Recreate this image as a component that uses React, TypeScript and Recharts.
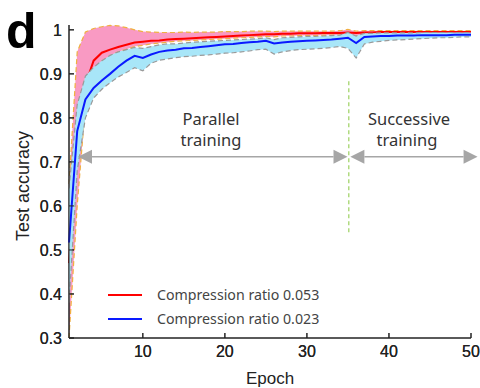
import {
  Area,
  ComposedChart,
  Line,
  ReferenceLine,
  XAxis,
  YAxis,
} from "recharts";

const epochs = [
  1, 2, 3, 4, 5, 6, 7, 8, 9, 10, 11, 12, 13, 14, 15, 16, 17, 18, 19, 20, 21, 22, 23, 24, 25,
  26, 27, 28, 29, 30, 31, 32, 33, 34, 35, 36, 37, 38, 39, 40, 41, 42, 43, 44, 45, 46, 47, 48, 49, 50,
];

// compression ratio 0.053
const redMean = [
  0.47, 0.77, 0.875, 0.93, 0.948, 0.955, 0.961, 0.966, 0.971, 0.973, 0.975, 0.976, 0.978, 0.979, 0.98,
  0.981, 0.982, 0.983, 0.984, 0.985, 0.986, 0.987, 0.988, 0.989, 0.99, 0.99, 0.991, 0.991, 0.992,
  0.992, 0.992, 0.993, 0.993, 0.993, 0.994, 0.993, 0.994, 0.994, 0.995, 0.995, 0.995, 0.995, 0.995,
  0.995, 0.995, 0.995, 0.995, 0.995, 0.995, 0.995,
];
const redHigh = [
  0.65, 0.95, 0.995, 1.003, 1.007, 1.01, 1.009, 1.005, 1.0, 0.996, 0.995, 0.994, 0.994, 0.994, 0.995,
  0.994, 0.995, 0.995, 0.995, 0.996, 0.996, 0.996, 0.997, 0.997, 0.997, 0.996, 0.997, 0.997, 0.997,
  0.997, 0.997, 0.997, 0.997, 0.998, 1.001, 0.997, 0.998, 0.998, 0.998, 0.998, 0.998, 0.998, 0.998,
  0.998, 0.998, 0.998, 0.998, 0.998, 0.998, 0.998,
];
const redLow = [
  0.3, 0.6, 0.83, 0.9, 0.928, 0.94, 0.95, 0.956, 0.962, 0.965, 0.968, 0.97, 0.972, 0.974, 0.975,
  0.976, 0.977, 0.978, 0.979, 0.98, 0.981, 0.982, 0.983, 0.984, 0.985, 0.984, 0.986, 0.986, 0.987,
  0.987, 0.987, 0.988, 0.988, 0.988, 0.988, 0.986, 0.989, 0.99, 0.991, 0.991, 0.991, 0.991, 0.991,
  0.991, 0.991, 0.991, 0.991, 0.991, 0.991, 0.991,
];

// compression ratio 0.023
const blueMean = [
  0.517, 0.77, 0.842, 0.868, 0.885, 0.9, 0.916, 0.93, 0.941, 0.936, 0.944, 0.95, 0.953, 0.955,
  0.958, 0.959, 0.961, 0.963, 0.965, 0.967, 0.968, 0.97, 0.972, 0.973, 0.975, 0.969, 0.971, 0.973,
  0.974, 0.975, 0.976, 0.977, 0.978, 0.98, 0.982, 0.97, 0.984, 0.985, 0.986, 0.986, 0.987, 0.987,
  0.987, 0.988, 0.988, 0.988, 0.988, 0.989, 0.989, 0.989,
];
const blueHigh = [
  0.64, 0.83, 0.895, 0.915, 0.93, 0.942, 0.95, 0.955, 0.96, 0.958, 0.962, 0.966, 0.968, 0.968, 0.97,
  0.972, 0.973, 0.974, 0.975, 0.976, 0.977, 0.978, 0.979, 0.98, 0.982, 0.978, 0.982, 0.983, 0.984,
  0.985, 0.985, 0.986, 0.987, 0.988, 0.994, 0.986, 0.992, 0.992, 0.993, 0.993, 0.993, 0.993, 0.993,
  0.994, 0.994, 0.994, 0.994, 0.994, 0.994, 0.994,
];
const blueLow = [
  0.38, 0.68, 0.8, 0.845, 0.865, 0.88, 0.893, 0.903, 0.914, 0.907, 0.924, 0.931, 0.934, 0.937, 0.939,
  0.94, 0.942, 0.943, 0.945, 0.947, 0.948, 0.95, 0.952, 0.955, 0.956, 0.945, 0.95, 0.953, 0.955,
  0.956, 0.957, 0.958, 0.96, 0.962, 0.958, 0.936, 0.968, 0.972, 0.974, 0.976, 0.977, 0.978, 0.979,
  0.98, 0.981, 0.982, 0.982, 0.983, 0.984, 0.984,
];

const xTicks = [10, 20, 30, 40, 50];
const yTicks = [0.3, 0.4, 0.5, 0.6, 0.7, 0.8, 0.9, 1];

const data = epochs.map((epoch, i) => ({
  epoch,
  red: redMean[i],
  blue: blueMean[i],
  redBand: [redLow[i], redHigh[i]],
  blueBand: [blueLow[i], blueHigh[i]],
}));

const ARROW_GRAY = "#a6a6a6";
const ARROW_Y = 0.712;

function DoubleArrow(props: any) {
  const { x1, y1, x2 } = props;
  const len = 14;
  const half = 7;
  return (
    <g>
      <line x1={x1 + len} y1={y1} x2={x2 - len} y2={y1} stroke={ARROW_GRAY} strokeWidth={1.5} />
      <polygon
        points={`${x1},${y1} ${x1 + len},${y1 - half} ${x1 + len},${y1 + half}`}
        fill={ARROW_GRAY}
      />
      <polygon
        points={`${x2},${y1} ${x2 - len},${y1 - half} ${x2 - len},${y1 + half}`}
        fill={ARROW_GRAY}
      />
    </g>
  );
}

const tickStyle = { fontSize: 16, fill: "#222", fontFamily: "Liberation Sans" };
const noteFont = "'Noto Sans', sans-serif";
const layer = { position: "absolute" as const, left: 0, top: 0 };

// both layers share the same axes so the scales line up; the blue band
// sits in the upper layer so it covers the red curve like the original
function Axes() {
  return [
    <XAxis
      key="x"
      dataKey="epoch"
      type="number"
      domain={[1, 50]}
      ticks={xTicks}
      height={50}
      tickSize={-5}
      tickMargin={13}
      tick={tickStyle}
      axisLine={{ stroke: "#222" }}
      tickLine={{ stroke: "#222" }}
    />,
    <YAxis
      key="y"
      type="number"
      domain={[0.3, 1.011]}
      ticks={yTicks}
      width={69}
      tickSize={-5}
      tickMargin={12}
      tick={tickStyle}
      tickFormatter={(v: number) => (v === 1 ? "1" : v.toFixed(1))}
      axisLine={{ stroke: "#222" }}
      tickLine={{ stroke: "#222" }}
    />,
  ];
}

const margin = { top: 25, right: 9, left: 0, bottom: 0 };

export default function App() {
  return (
    <div style={{ ...layer, width: 480, height: 388, background: "#fff" }}>
      <div style={layer}>
        <ComposedChart width={480} height={388} data={data} margin={margin}>
          {Axes()}
          <Area
            dataKey="redBand"
            type="linear"
            fill="#f99ac3"
            fillOpacity={1}
            stroke="#f0b040"
            strokeWidth={1.2}
            strokeDasharray="5 3"
            isAnimationActive={false}
          />
          <Line
            dataKey="red"
            type="linear"
            stroke="#ff0000"
            strokeWidth={2}
            dot={false}
            isAnimationActive={false}
          />
        </ComposedChart>
      </div>
      <div style={layer}>
        <ComposedChart width={480} height={388} data={data} margin={margin}>
          {Axes()}
          <Area
            dataKey="blueBand"
            type="linear"
            fill="#a8e6f8"
            fillOpacity={1}
            stroke="#9a9a9a"
            strokeWidth={1.2}
            strokeDasharray="5 3"
            isAnimationActive={false}
          />
          <Line
            dataKey="blue"
            type="linear"
            stroke="#0a1aff"
            strokeWidth={2}
            dot={false}
            isAnimationActive={false}
          />
          <ReferenceLine
            segment={[
              { x: 35.1, y: 0.54 },
              { x: 35.1, y: 0.888 },
            ]}
            stroke="#b0da80"
            strokeWidth={1.5}
            strokeDasharray="4 3"
            ifOverflow="visible"
          />
          <ReferenceLine
            segment={[
              { x: 2.1, y: ARROW_Y },
              { x: 34.95, y: ARROW_Y },
            ]}
            ifOverflow="visible"
            shape={DoubleArrow}
          />
          <ReferenceLine
            segment={[
              { x: 35.3, y: ARROW_Y },
              { x: 50.8, y: ARROW_Y },
            ]}
            ifOverflow="visible"
            shape={DoubleArrow}
          />
        </ComposedChart>
      </div>
      <svg width={480} height={388} style={{ ...layer, pointerEvents: "none" }}>
        <text x={6} y={48} fontSize={50} fontWeight="bold" fontFamily="Liberation Sans" fill="#000">
          d
        </text>
        <text
          x={0}
          y={0}
          transform="translate(29,186) rotate(-90)"
          textAnchor="middle"
          fontSize={18}
          fontFamily="Liberation Sans"
          fill="#222"
        >
          Test accuracy
        </text>
        <text x={270} y={384} textAnchor="middle" fontSize={17} fontFamily="Liberation Sans" fill="#222">
          Epoch
        </text>
        <g fontFamily={noteFont} fontSize={16.5} fill="#333" textAnchor="middle">
          <text x={211} y={125}>Parallel</text>
          <text x={211} y={146}>training</text>
          <text x={409} y={125}>Successive</text>
          <text x={407} y={146}>training</text>
        </g>
        <line x1={108} y1={295} x2={142} y2={295} stroke="#ff0000" strokeWidth={2} />
        <line x1={108} y1={319} x2={142} y2={319} stroke="#0a1aff" strokeWidth={2} />
        <g fontFamily={noteFont} fontSize={14.2} fill="#444">
          <text x={157} y={300}>Compression ratio 0.053</text>
          <text x={157} y={324}>Compression ratio 0.023</text>
        </g>
      </svg>
    </div>
  );
}
